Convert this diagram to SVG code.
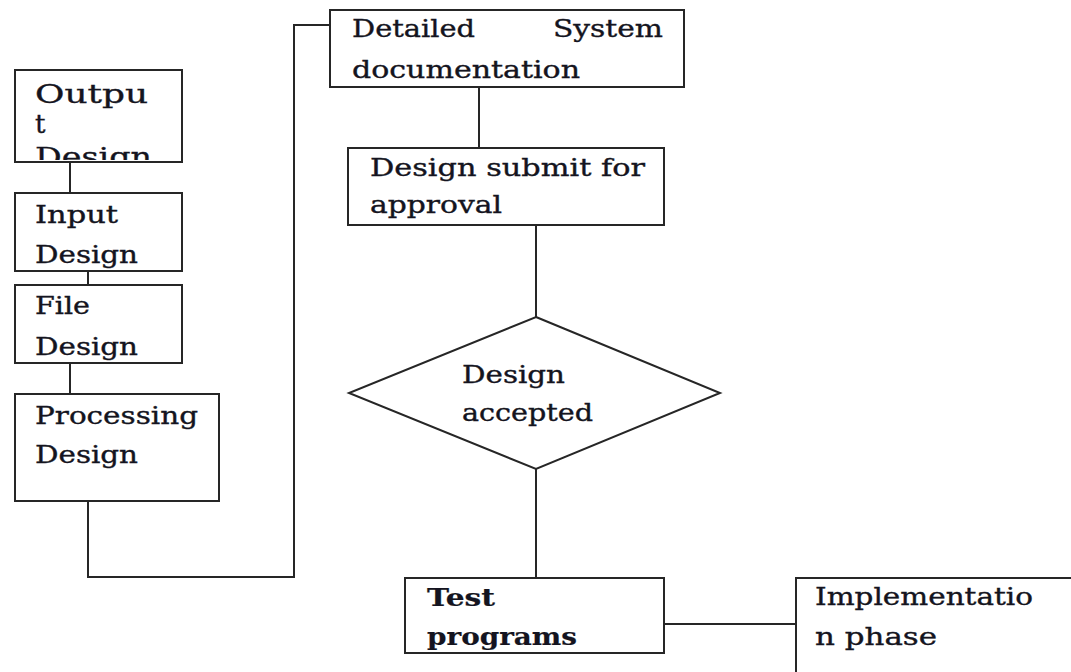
<svg xmlns="http://www.w3.org/2000/svg" width="1071" height="672" viewBox="0 0 1071 672">
<style>
.box{fill:#fff;stroke:#262626;stroke-width:2}
.ln{fill:none;stroke:#262626;stroke-width:2}
text{font-family:"DejaVu Serif","Liberation Serif",serif;font-size:24px;fill:#141420;stroke:#141420;stroke-width:0.35}
.b{font-weight:bold;stroke-width:0.2}
.big{font-size:26px}
</style>
<defs>
<clipPath id="cOut"><rect x="15" y="70" width="167" height="90"/></clipPath>
<clipPath id="cIn"><rect x="15" y="193" width="167" height="77"/></clipPath>
<clipPath id="cFile"><rect x="15" y="285" width="167" height="77"/></clipPath>
<clipPath id="cSub"><rect x="348" y="148" width="316" height="76"/></clipPath>
<clipPath id="cTest"><rect x="405" y="578" width="259" height="74"/></clipPath>
</defs>
<rect width="1071" height="672" fill="#fff"/>
<g id="connectors">
<line class="ln" x1="70" y1="162" x2="70" y2="193"/>
<line class="ln" x1="88" y1="271" x2="88" y2="285"/>
<line class="ln" x1="70" y1="363" x2="70" y2="394"/>
<polyline class="ln" points="88,501 88,577 294,577 294,25 330,25"/>
<line class="ln" x1="479" y1="87" x2="479" y2="148"/>
<line class="ln" x1="536" y1="225" x2="536" y2="317"/>
<line class="ln" x1="536" y1="469" x2="536" y2="578"/>
<line class="ln" x1="664" y1="624" x2="796" y2="624"/>
</g>
<g id="output-design">
<rect class="box" x="15" y="70" width="167" height="92"/>
<g clip-path="url(#cOut)">
<text class="big" x="35" y="103" textLength="113" lengthAdjust="spacingAndGlyphs">Outpu</text>
<text class="big" x="35" y="133">t</text>
<text class="big" x="35" y="166" textLength="117" lengthAdjust="spacingAndGlyphs">Design</text>
</g>
</g>
<g id="input-design">
<rect class="box" x="15" y="193" width="167" height="78"/>
<g clip-path="url(#cIn)">
<text x="35" y="223" textLength="83" lengthAdjust="spacingAndGlyphs">Input</text>
<text x="35" y="263" textLength="103" lengthAdjust="spacingAndGlyphs">Design</text>
</g>
</g>
<g id="file-design">
<rect class="box" x="15" y="285" width="167" height="78"/>
<g clip-path="url(#cFile)">
<text x="35" y="314" textLength="55" lengthAdjust="spacingAndGlyphs">File</text>
<text x="35" y="355" textLength="103" lengthAdjust="spacingAndGlyphs">Design</text>
</g>
</g>
<g id="processing-design">
<rect class="box" x="15" y="394" width="204" height="107"/>
<text x="35" y="424" textLength="163" lengthAdjust="spacingAndGlyphs">Processing</text>
<text x="35" y="463" textLength="103" lengthAdjust="spacingAndGlyphs">Design</text>
</g>
<g id="detailed-system-documentation">
<rect class="box" x="330" y="10" width="354" height="77"/>
<text x="352" y="37" textLength="123" lengthAdjust="spacingAndGlyphs">Detailed</text>
<text x="553" y="37" textLength="110" lengthAdjust="spacingAndGlyphs">System</text>
<text x="352" y="78" textLength="228" lengthAdjust="spacingAndGlyphs">documentation</text>
</g>
<g id="design-submit">
<rect class="box" x="348" y="148" width="316" height="77"/>
<g clip-path="url(#cSub)">
<text x="370" y="176" textLength="275" lengthAdjust="spacingAndGlyphs">Design submit for</text>
<text x="370" y="213" textLength="132" lengthAdjust="spacingAndGlyphs">approval</text>
</g>
</g>
<g id="design-accepted">
<polygon class="box" points="536,317 720,393 536,469 349,393"/>
<text x="462" y="383" textLength="103" lengthAdjust="spacingAndGlyphs">Design</text>
<text x="462" y="421" textLength="131" lengthAdjust="spacingAndGlyphs">accepted</text>
</g>
<g id="test-programs">
<rect class="box" x="405" y="578" width="259" height="75"/>
<g clip-path="url(#cTest)">
<text class="b" x="427" y="606" textLength="68" lengthAdjust="spacingAndGlyphs">Test</text>
<text class="b" x="427" y="645" textLength="150" lengthAdjust="spacingAndGlyphs">programs</text>
</g>
</g>
<g id="implementation-phase">
<rect class="box" x="796" y="578" width="300" height="120"/>
<text x="815" y="605" textLength="218" lengthAdjust="spacingAndGlyphs">Implementatio</text>
<text x="815" y="645" textLength="122" lengthAdjust="spacingAndGlyphs">n phase</text>
</g>
</svg>
